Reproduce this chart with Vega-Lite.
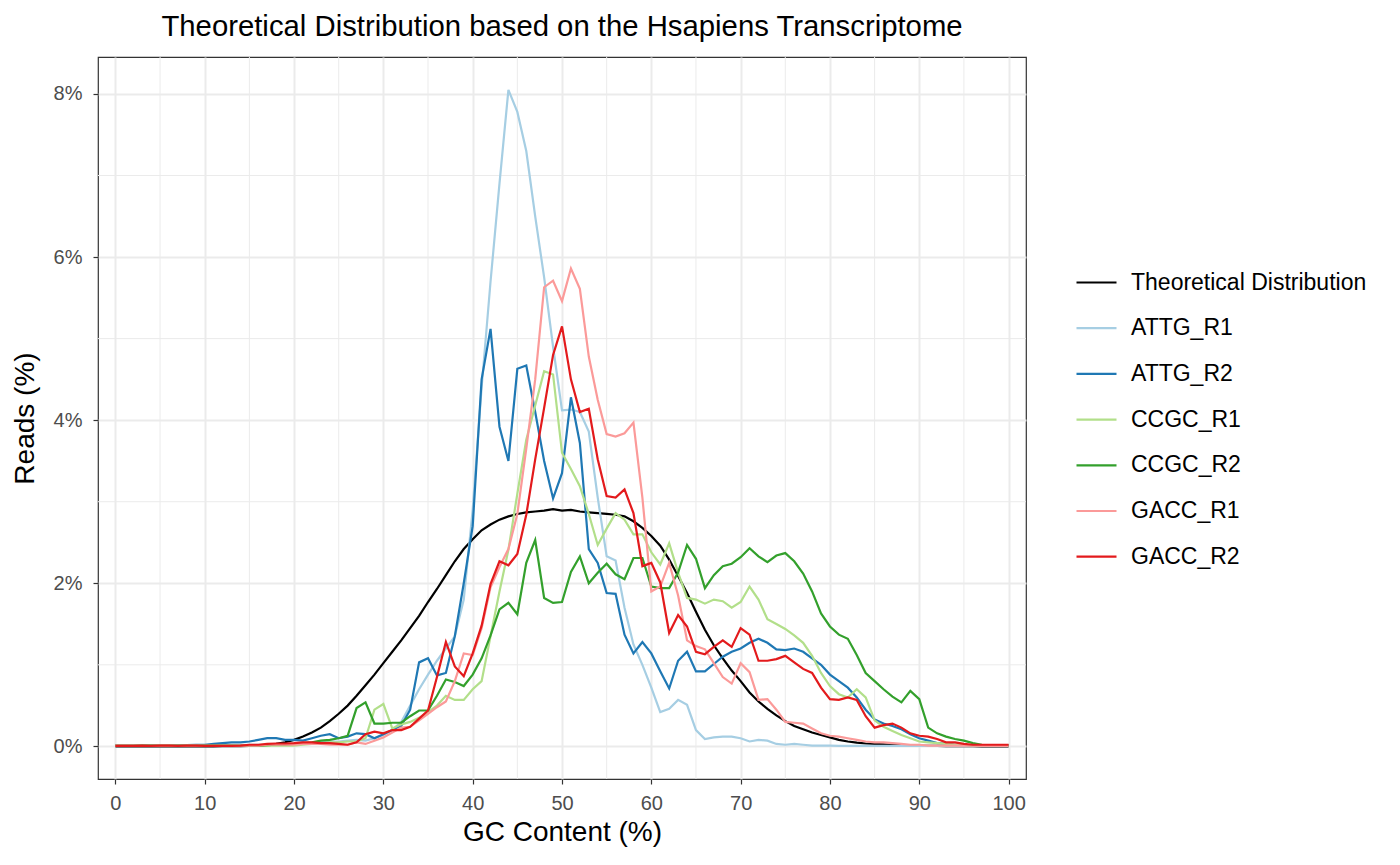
{
  "$schema": "https://vega.github.io/schema/vega-lite/v6.json",
  "width": 928,
  "height": 722,
  "autosize": {"type": "none"},
  "padding": {"left": 98, "top": 57, "right": 374, "bottom": 86},
  "background": "white",
  "title": {"text": "Theoretical Distribution based on the Hsapiens Transcriptome", "font": "Liberation Sans", "fontSize": 29.3, "fontWeight": "normal", "color": "#000000", "anchor": "middle", "baseline": "bottom", "offset": 18, "dy": 33},
  "config": {
    "view": {"stroke": "#333333", "strokeWidth": 1.2},
    "axis": {"domain": false, "gridColor": "#ebebeb", "gridWidth": 2, "tickColor": "#333333", "tickWidth": 1.2, "tickSize": 5, "labelColor": "#4d4d4d", "labelFont": "Liberation Sans", "labelFontSize": 20, "titleFont": "Liberation Sans", "titleFontSize": 28, "titleFontWeight": "normal", "titleColor": "#000000"}
  },
  "layer": [
    {
      "data": {"values": [{"gc": 5}, {"gc": 15}, {"gc": 25}, {"gc": 35}, {"gc": 45}, {"gc": 55}, {"gc": 65}, {"gc": 75}, {"gc": 85}, {"gc": 95}]},
      "mark": {"type": "rule", "color": "#ebebeb", "strokeWidth": 1},
      "encoding": {"x": {"field": "gc", "type": "quantitative", "scale": {"domain": [-1.95, 101.95], "nice": false, "zero": false},
              "axis": {"values": [0, 10, 20, 30, 40, 50, 60, 70, 80, 90, 100], "title": "GC Content (%)", "labelPadding": 9, "titlePadding": 5}}}
    },
    {
      "data": {"values": [{"pct": 1}, {"pct": 3}, {"pct": 5}, {"pct": 7}]},
      "mark": {"type": "rule", "color": "#ebebeb", "strokeWidth": 1},
      "encoding": {"y": {"field": "pct", "type": "quantitative", "scale": {"domain": [-0.4, 8.453], "nice": false, "zero": false},
              "axis": {"values": [0, 2, 4, 6, 8], "labelExpr": "datum.value + '%'", "title": "Reads (%)", "labelPadding": 11, "titlePadding": 14}}}
    },
    {
      "data": {"values": [
{"gc":0,"Theoretical Distribution":0,"ATTG_R1":0.01,"ATTG_R2":0.01,"CCGC_R1":0.01,"CCGC_R2":0.01,"GACC_R1":0.01,"GACC_R2":0.005},
{"gc":1,"Theoretical Distribution":0,"ATTG_R1":0.01,"ATTG_R2":0.01,"CCGC_R1":0.01,"CCGC_R2":0.01,"GACC_R1":0.01,"GACC_R2":0.005},
{"gc":2,"Theoretical Distribution":0,"ATTG_R1":0.01,"ATTG_R2":0.01,"CCGC_R1":0.01,"CCGC_R2":0.01,"GACC_R1":0.01,"GACC_R2":0.005},
{"gc":3,"Theoretical Distribution":0,"ATTG_R1":0.01,"ATTG_R2":0.01,"CCGC_R1":0.01,"CCGC_R2":0.01,"GACC_R1":0.005,"GACC_R2":0.01},
{"gc":4,"Theoretical Distribution":0,"ATTG_R1":0.01,"ATTG_R2":0.01,"CCGC_R1":0.01,"CCGC_R2":0.01,"GACC_R1":0.005,"GACC_R2":0.005},
{"gc":5,"Theoretical Distribution":0,"ATTG_R1":0.01,"ATTG_R2":0.01,"CCGC_R1":0.01,"CCGC_R2":0.01,"GACC_R1":0.01,"GACC_R2":0.01},
{"gc":6,"Theoretical Distribution":0,"ATTG_R1":0.01,"ATTG_R2":0.01,"CCGC_R1":0.01,"CCGC_R2":0.01,"GACC_R1":0.01,"GACC_R2":0.01},
{"gc":7,"Theoretical Distribution":0,"ATTG_R1":0.01,"ATTG_R2":0.01,"CCGC_R1":0.01,"CCGC_R2":0.01,"GACC_R1":0.005,"GACC_R2":0.005},
{"gc":8,"Theoretical Distribution":0,"ATTG_R1":0.01,"ATTG_R2":0.015,"CCGC_R1":0.01,"CCGC_R2":0.01,"GACC_R1":0.01,"GACC_R2":0.01},
{"gc":9,"Theoretical Distribution":0,"ATTG_R1":0.01,"ATTG_R2":0.02,"CCGC_R1":0.01,"CCGC_R2":0.01,"GACC_R1":0.01,"GACC_R2":0.01},
{"gc":10,"Theoretical Distribution":0.001,"ATTG_R1":0.01,"ATTG_R2":0.02,"CCGC_R1":0.01,"CCGC_R2":0.01,"GACC_R1":0.005,"GACC_R2":0.005},
{"gc":11,"Theoretical Distribution":0.001,"ATTG_R1":0.01,"ATTG_R2":0.03,"CCGC_R1":0.01,"CCGC_R2":0.01,"GACC_R1":0.005,"GACC_R2":0.005},
{"gc":12,"Theoretical Distribution":0.002,"ATTG_R1":0.01,"ATTG_R2":0.04,"CCGC_R1":0.01,"CCGC_R2":0.01,"GACC_R1":0.005,"GACC_R2":0.005},
{"gc":13,"Theoretical Distribution":0.002,"ATTG_R1":0.01,"ATTG_R2":0.05,"CCGC_R1":0.01,"CCGC_R2":0.01,"GACC_R1":0.005,"GACC_R2":0.005},
{"gc":14,"Theoretical Distribution":0.003,"ATTG_R1":0.015,"ATTG_R2":0.05,"CCGC_R1":0.01,"CCGC_R2":0.01,"GACC_R1":0.01,"GACC_R2":0.01},
{"gc":15,"Theoretical Distribution":0.005,"ATTG_R1":0.02,"ATTG_R2":0.06,"CCGC_R1":0.01,"CCGC_R2":0.01,"GACC_R1":0.01,"GACC_R2":0.02},
{"gc":16,"Theoretical Distribution":0.01,"ATTG_R1":0.02,"ATTG_R2":0.08,"CCGC_R1":0.01,"CCGC_R2":0.01,"GACC_R1":0.01,"GACC_R2":0.02},
{"gc":17,"Theoretical Distribution":0.02,"ATTG_R1":0.02,"ATTG_R2":0.1,"CCGC_R1":0.01,"CCGC_R2":0.015,"GACC_R1":0.02,"GACC_R2":0.03},
{"gc":18,"Theoretical Distribution":0.03,"ATTG_R1":0.02,"ATTG_R2":0.1,"CCGC_R1":0.01,"CCGC_R2":0.02,"GACC_R1":0.02,"GACC_R2":0.035},
{"gc":19,"Theoretical Distribution":0.05,"ATTG_R1":0.02,"ATTG_R2":0.08,"CCGC_R1":0.01,"CCGC_R2":0.02,"GACC_R1":0.02,"GACC_R2":0.035},
{"gc":20,"Theoretical Distribution":0.08,"ATTG_R1":0.03,"ATTG_R2":0.08,"CCGC_R1":0.01,"CCGC_R2":0.03,"GACC_R1":0.02,"GACC_R2":0.04},
{"gc":21,"Theoretical Distribution":0.12,"ATTG_R1":0.03,"ATTG_R2":0.07,"CCGC_R1":0.02,"CCGC_R2":0.04,"GACC_R1":0.03,"GACC_R2":0.05},
{"gc":22,"Theoretical Distribution":0.17,"ATTG_R1":0.04,"ATTG_R2":0.1,"CCGC_R1":0.03,"CCGC_R2":0.05,"GACC_R1":0.03,"GACC_R2":0.05},
{"gc":23,"Theoretical Distribution":0.23,"ATTG_R1":0.05,"ATTG_R2":0.13,"CCGC_R1":0.04,"CCGC_R2":0.07,"GACC_R1":0.03,"GACC_R2":0.04},
{"gc":24,"Theoretical Distribution":0.31,"ATTG_R1":0.06,"ATTG_R2":0.15,"CCGC_R1":0.05,"CCGC_R2":0.08,"GACC_R1":0.02,"GACC_R2":0.04},
{"gc":25,"Theoretical Distribution":0.4,"ATTG_R1":0.06,"ATTG_R2":0.1,"CCGC_R1":0.05,"CCGC_R2":0.1,"GACC_R1":0.02,"GACC_R2":0.03},
{"gc":26,"Theoretical Distribution":0.5,"ATTG_R1":0.07,"ATTG_R2":0.12,"CCGC_R1":0.06,"CCGC_R2":0.13,"GACC_R1":0.02,"GACC_R2":0.02},
{"gc":27,"Theoretical Distribution":0.62,"ATTG_R1":0.08,"ATTG_R2":0.16,"CCGC_R1":0.06,"CCGC_R2":0.47,"GACC_R1":0.05,"GACC_R2":0.05},
{"gc":28,"Theoretical Distribution":0.75,"ATTG_R1":0.07,"ATTG_R2":0.15,"CCGC_R1":0.1,"CCGC_R2":0.54,"GACC_R1":0.03,"GACC_R2":0.15},
{"gc":29,"Theoretical Distribution":0.88,"ATTG_R1":0.1,"ATTG_R2":0.1,"CCGC_R1":0.45,"CCGC_R2":0.28,"GACC_R1":0.07,"GACC_R2":0.18},
{"gc":30,"Theoretical Distribution":1.02,"ATTG_R1":0.14,"ATTG_R2":0.15,"CCGC_R1":0.52,"CCGC_R2":0.28,"GACC_R1":0.11,"GACC_R2":0.16},
{"gc":31,"Theoretical Distribution":1.16,"ATTG_R1":0.2,"ATTG_R2":0.2,"CCGC_R1":0.22,"CCGC_R2":0.29,"GACC_R1":0.17,"GACC_R2":0.2},
{"gc":32,"Theoretical Distribution":1.3,"ATTG_R1":0.3,"ATTG_R2":0.25,"CCGC_R1":0.27,"CCGC_R2":0.29,"GACC_R1":0.23,"GACC_R2":0.2},
{"gc":33,"Theoretical Distribution":1.45,"ATTG_R1":0.5,"ATTG_R2":0.45,"CCGC_R1":0.3,"CCGC_R2":0.37,"GACC_R1":0.24,"GACC_R2":0.24},
{"gc":34,"Theoretical Distribution":1.6,"ATTG_R1":0.7,"ATTG_R2":1.03,"CCGC_R1":0.35,"CCGC_R2":0.44,"GACC_R1":0.32,"GACC_R2":0.34},
{"gc":35,"Theoretical Distribution":1.77,"ATTG_R1":0.88,"ATTG_R2":1.08,"CCGC_R1":0.42,"CCGC_R2":0.44,"GACC_R1":0.4,"GACC_R2":0.44},
{"gc":36,"Theoretical Distribution":1.93,"ATTG_R1":1.05,"ATTG_R2":0.87,"CCGC_R1":0.5,"CCGC_R2":0.62,"GACC_R1":0.48,"GACC_R2":0.85},
{"gc":37,"Theoretical Distribution":2.1,"ATTG_R1":1.2,"ATTG_R2":0.9,"CCGC_R1":0.62,"CCGC_R2":0.82,"GACC_R1":0.55,"GACC_R2":1.28},
{"gc":38,"Theoretical Distribution":2.27,"ATTG_R1":1.35,"ATTG_R2":1.35,"CCGC_R1":0.57,"CCGC_R2":0.79,"GACC_R1":0.8,"GACC_R2":0.98},
{"gc":39,"Theoretical Distribution":2.42,"ATTG_R1":1.8,"ATTG_R2":2.0,"CCGC_R1":0.57,"CCGC_R2":0.74,"GACC_R1":1.14,"GACC_R2":0.86},
{"gc":40,"Theoretical Distribution":2.54,"ATTG_R1":2.9,"ATTG_R2":2.7,"CCGC_R1":0.7,"CCGC_R2":0.88,"GACC_R1":1.12,"GACC_R2":1.14},
{"gc":41,"Theoretical Distribution":2.65,"ATTG_R1":4.4,"ATTG_R2":4.5,"CCGC_R1":0.8,"CCGC_R2":1.08,"GACC_R1":1.45,"GACC_R2":1.48},
{"gc":42,"Theoretical Distribution":2.72,"ATTG_R1":5.7,"ATTG_R2":5.12,"CCGC_R1":1.35,"CCGC_R2":1.36,"GACC_R1":1.95,"GACC_R2":1.99},
{"gc":43,"Theoretical Distribution":2.78,"ATTG_R1":6.9,"ATTG_R2":3.92,"CCGC_R1":1.9,"CCGC_R2":1.68,"GACC_R1":2.2,"GACC_R2":2.27},
{"gc":44,"Theoretical Distribution":2.82,"ATTG_R1":8.05,"ATTG_R2":3.5,"CCGC_R1":2.41,"CCGC_R2":1.76,"GACC_R1":2.42,"GACC_R2":2.22},
{"gc":45,"Theoretical Distribution":2.85,"ATTG_R1":7.78,"ATTG_R2":4.63,"CCGC_R1":3.1,"CCGC_R2":1.62,"GACC_R1":2.85,"GACC_R2":2.36},
{"gc":46,"Theoretical Distribution":2.87,"ATTG_R1":7.3,"ATTG_R2":4.67,"CCGC_R1":3.76,"CCGC_R2":2.25,"GACC_R1":3.65,"GACC_R2":2.84},
{"gc":47,"Theoretical Distribution":2.88,"ATTG_R1":6.5,"ATTG_R2":4.1,"CCGC_R1":4.18,"CCGC_R2":2.53,"GACC_R1":4.5,"GACC_R2":3.52},
{"gc":48,"Theoretical Distribution":2.89,"ATTG_R1":5.75,"ATTG_R2":3.5,"CCGC_R1":4.6,"CCGC_R2":1.82,"GACC_R1":5.63,"GACC_R2":4.15},
{"gc":49,"Theoretical Distribution":2.91,"ATTG_R1":4.9,"ATTG_R2":3.04,"CCGC_R1":4.56,"CCGC_R2":1.76,"GACC_R1":5.71,"GACC_R2":4.8},
{"gc":50,"Theoretical Distribution":2.89,"ATTG_R1":4.12,"ATTG_R2":3.35,"CCGC_R1":3.6,"CCGC_R2":1.77,"GACC_R1":5.46,"GACC_R2":5.15},
{"gc":51,"Theoretical Distribution":2.9,"ATTG_R1":4.13,"ATTG_R2":4.28,"CCGC_R1":3.4,"CCGC_R2":2.14,"GACC_R1":5.86,"GACC_R2":4.5},
{"gc":52,"Theoretical Distribution":2.88,"ATTG_R1":4.1,"ATTG_R2":3.72,"CCGC_R1":3.19,"CCGC_R2":2.33,"GACC_R1":5.61,"GACC_R2":4.1},
{"gc":53,"Theoretical Distribution":2.87,"ATTG_R1":3.86,"ATTG_R2":2.42,"CCGC_R1":2.85,"CCGC_R2":2.0,"GACC_R1":4.78,"GACC_R2":4.14},
{"gc":54,"Theoretical Distribution":2.86,"ATTG_R1":3.05,"ATTG_R2":2.25,"CCGC_R1":2.47,"CCGC_R2":2.13,"GACC_R1":4.25,"GACC_R2":3.52},
{"gc":55,"Theoretical Distribution":2.85,"ATTG_R1":2.33,"ATTG_R2":1.88,"CCGC_R1":2.67,"CCGC_R2":2.24,"GACC_R1":3.83,"GACC_R2":3.07},
{"gc":56,"Theoretical Distribution":2.84,"ATTG_R1":2.28,"ATTG_R2":1.87,"CCGC_R1":2.86,"CCGC_R2":2.11,"GACC_R1":3.8,"GACC_R2":3.05},
{"gc":57,"Theoretical Distribution":2.82,"ATTG_R1":1.7,"ATTG_R2":1.37,"CCGC_R1":2.78,"CCGC_R2":2.05,"GACC_R1":3.84,"GACC_R2":3.15},
{"gc":58,"Theoretical Distribution":2.76,"ATTG_R1":1.25,"ATTG_R2":1.14,"CCGC_R1":2.6,"CCGC_R2":2.31,"GACC_R1":3.97,"GACC_R2":2.86},
{"gc":59,"Theoretical Distribution":2.68,"ATTG_R1":1.0,"ATTG_R2":1.28,"CCGC_R1":2.6,"CCGC_R2":2.31,"GACC_R1":3.05,"GACC_R2":2.21},
{"gc":60,"Theoretical Distribution":2.58,"ATTG_R1":0.72,"ATTG_R2":1.14,"CCGC_R1":2.38,"CCGC_R2":1.96,"GACC_R1":1.9,"GACC_R2":2.25},
{"gc":61,"Theoretical Distribution":2.46,"ATTG_R1":0.42,"ATTG_R2":0.92,"CCGC_R1":2.23,"CCGC_R2":1.94,"GACC_R1":1.96,"GACC_R2":2.01},
{"gc":62,"Theoretical Distribution":2.29,"ATTG_R1":0.46,"ATTG_R2":0.71,"CCGC_R1":2.49,"CCGC_R2":1.94,"GACC_R1":2.25,"GACC_R2":1.39},
{"gc":63,"Theoretical Distribution":2.09,"ATTG_R1":0.57,"ATTG_R2":1.05,"CCGC_R1":2.13,"CCGC_R2":2.13,"GACC_R1":1.85,"GACC_R2":1.61},
{"gc":64,"Theoretical Distribution":1.88,"ATTG_R1":0.51,"ATTG_R2":1.16,"CCGC_R1":1.82,"CCGC_R2":2.47,"GACC_R1":1.3,"GACC_R2":1.47},
{"gc":65,"Theoretical Distribution":1.65,"ATTG_R1":0.2,"ATTG_R2":0.92,"CCGC_R1":1.8,"CCGC_R2":2.3,"GACC_R1":1.23,"GACC_R2":1.16},
{"gc":66,"Theoretical Distribution":1.43,"ATTG_R1":0.09,"ATTG_R2":0.92,"CCGC_R1":1.75,"CCGC_R2":1.94,"GACC_R1":1.19,"GACC_R2":1.13},
{"gc":67,"Theoretical Distribution":1.24,"ATTG_R1":0.11,"ATTG_R2":1.01,"CCGC_R1":1.8,"CCGC_R2":2.1,"GACC_R1":1.02,"GACC_R2":1.22},
{"gc":68,"Theoretical Distribution":1.08,"ATTG_R1":0.12,"ATTG_R2":1.1,"CCGC_R1":1.78,"CCGC_R2":2.21,"GACC_R1":0.85,"GACC_R2":1.3},
{"gc":69,"Theoretical Distribution":0.93,"ATTG_R1":0.12,"ATTG_R2":1.16,"CCGC_R1":1.7,"CCGC_R2":2.24,"GACC_R1":0.77,"GACC_R2":1.22},
{"gc":70,"Theoretical Distribution":0.8,"ATTG_R1":0.1,"ATTG_R2":1.2,"CCGC_R1":1.77,"CCGC_R2":2.32,"GACC_R1":1.02,"GACC_R2":1.45},
{"gc":71,"Theoretical Distribution":0.66,"ATTG_R1":0.06,"ATTG_R2":1.27,"CCGC_R1":1.96,"CCGC_R2":2.43,"GACC_R1":0.91,"GACC_R2":1.37},
{"gc":72,"Theoretical Distribution":0.55,"ATTG_R1":0.08,"ATTG_R2":1.32,"CCGC_R1":1.8,"CCGC_R2":2.33,"GACC_R1":0.57,"GACC_R2":1.05},
{"gc":73,"Theoretical Distribution":0.46,"ATTG_R1":0.07,"ATTG_R2":1.27,"CCGC_R1":1.56,"CCGC_R2":2.26,"GACC_R1":0.58,"GACC_R2":1.05},
{"gc":74,"Theoretical Distribution":0.38,"ATTG_R1":0.03,"ATTG_R2":1.19,"CCGC_R1":1.5,"CCGC_R2":2.34,"GACC_R1":0.45,"GACC_R2":1.07},
{"gc":75,"Theoretical Distribution":0.31,"ATTG_R1":0.02,"ATTG_R2":1.18,"CCGC_R1":1.44,"CCGC_R2":2.37,"GACC_R1":0.3,"GACC_R2":1.11},
{"gc":76,"Theoretical Distribution":0.25,"ATTG_R1":0.03,"ATTG_R2":1.2,"CCGC_R1":1.36,"CCGC_R2":2.27,"GACC_R1":0.29,"GACC_R2":1.03},
{"gc":77,"Theoretical Distribution":0.21,"ATTG_R1":0.02,"ATTG_R2":1.16,"CCGC_R1":1.27,"CCGC_R2":2.12,"GACC_R1":0.28,"GACC_R2":0.95},
{"gc":78,"Theoretical Distribution":0.17,"ATTG_R1":0.01,"ATTG_R2":1.08,"CCGC_R1":1.11,"CCGC_R2":1.9,"GACC_R1":0.22,"GACC_R2":0.9},
{"gc":79,"Theoretical Distribution":0.14,"ATTG_R1":0.01,"ATTG_R2":1.0,"CCGC_R1":0.9,"CCGC_R2":1.63,"GACC_R1":0.16,"GACC_R2":0.72},
{"gc":80,"Theoretical Distribution":0.11,"ATTG_R1":0.01,"ATTG_R2":0.88,"CCGC_R1":0.74,"CCGC_R2":1.47,"GACC_R1":0.13,"GACC_R2":0.58},
{"gc":81,"Theoretical Distribution":0.08,"ATTG_R1":0.005,"ATTG_R2":0.8,"CCGC_R1":0.64,"CCGC_R2":1.37,"GACC_R1":0.12,"GACC_R2":0.57},
{"gc":82,"Theoretical Distribution":0.06,"ATTG_R1":0.005,"ATTG_R2":0.72,"CCGC_R1":0.6,"CCGC_R2":1.32,"GACC_R1":0.1,"GACC_R2":0.6},
{"gc":83,"Theoretical Distribution":0.045,"ATTG_R1":0.005,"ATTG_R2":0.6,"CCGC_R1":0.7,"CCGC_R2":1.12,"GACC_R1":0.08,"GACC_R2":0.57},
{"gc":84,"Theoretical Distribution":0.035,"ATTG_R1":0.005,"ATTG_R2":0.45,"CCGC_R1":0.6,"CCGC_R2":0.9,"GACC_R1":0.06,"GACC_R2":0.37},
{"gc":85,"Theoretical Distribution":0.03,"ATTG_R1":0.005,"ATTG_R2":0.33,"CCGC_R1":0.32,"CCGC_R2":0.8,"GACC_R1":0.05,"GACC_R2":0.23},
{"gc":86,"Theoretical Distribution":0.025,"ATTG_R1":0.005,"ATTG_R2":0.28,"CCGC_R1":0.24,"CCGC_R2":0.7,"GACC_R1":0.05,"GACC_R2":0.26},
{"gc":87,"Theoretical Distribution":0.02,"ATTG_R1":0.005,"ATTG_R2":0.25,"CCGC_R1":0.19,"CCGC_R2":0.61,"GACC_R1":0.04,"GACC_R2":0.28},
{"gc":88,"Theoretical Distribution":0.015,"ATTG_R1":0.005,"ATTG_R2":0.21,"CCGC_R1":0.14,"CCGC_R2":0.54,"GACC_R1":0.03,"GACC_R2":0.23},
{"gc":89,"Theoretical Distribution":0.01,"ATTG_R1":0.005,"ATTG_R2":0.15,"CCGC_R1":0.1,"CCGC_R2":0.68,"GACC_R1":0.02,"GACC_R2":0.16},
{"gc":90,"Theoretical Distribution":0.008,"ATTG_R1":0.005,"ATTG_R2":0.1,"CCGC_R1":0.06,"CCGC_R2":0.58,"GACC_R1":0.02,"GACC_R2":0.13},
{"gc":91,"Theoretical Distribution":0.006,"ATTG_R1":0.005,"ATTG_R2":0.07,"CCGC_R1":0.05,"CCGC_R2":0.23,"GACC_R1":0.01,"GACC_R2":0.12},
{"gc":92,"Theoretical Distribution":0.005,"ATTG_R1":0.005,"ATTG_R2":0.04,"CCGC_R1":0.04,"CCGC_R2":0.16,"GACC_R1":0.01,"GACC_R2":0.09},
{"gc":93,"Theoretical Distribution":0.004,"ATTG_R1":0.005,"ATTG_R2":0.03,"CCGC_R1":0.03,"CCGC_R2":0.12,"GACC_R1":0.01,"GACC_R2":0.05},
{"gc":94,"Theoretical Distribution":0.003,"ATTG_R1":0.005,"ATTG_R2":0.02,"CCGC_R1":0.02,"CCGC_R2":0.09,"GACC_R1":0.01,"GACC_R2":0.05},
{"gc":95,"Theoretical Distribution":0.002,"ATTG_R1":0.005,"ATTG_R2":0.02,"CCGC_R1":0.02,"CCGC_R2":0.07,"GACC_R1":0.01,"GACC_R2":0.03},
{"gc":96,"Theoretical Distribution":0.002,"ATTG_R1":0.005,"ATTG_R2":0.01,"CCGC_R1":0.01,"CCGC_R2":0.04,"GACC_R1":0.01,"GACC_R2":0.02},
{"gc":97,"Theoretical Distribution":0.001,"ATTG_R1":0.005,"ATTG_R2":0.01,"CCGC_R1":0.01,"CCGC_R2":0.02,"GACC_R1":0.005,"GACC_R2":0.02},
{"gc":98,"Theoretical Distribution":0.001,"ATTG_R1":0.005,"ATTG_R2":0.01,"CCGC_R1":0.01,"CCGC_R2":0.015,"GACC_R1":0.005,"GACC_R2":0.02},
{"gc":99,"Theoretical Distribution":0,"ATTG_R1":0.005,"ATTG_R2":0.01,"CCGC_R1":0.01,"CCGC_R2":0.01,"GACC_R1":0.005,"GACC_R2":0.02},
{"gc":100,"Theoretical Distribution":0,"ATTG_R1":0.005,"ATTG_R2":0.01,"CCGC_R1":0.01,"CCGC_R2":0.01,"GACC_R1":0.005,"GACC_R2":0.02}
      ]},
      "transform": [{"fold": ["Theoretical Distribution", "ATTG_R1", "ATTG_R2", "CCGC_R1", "CCGC_R2", "GACC_R1", "GACC_R2"], "as": ["series", "pct"]}],
      "mark": {"type": "line", "strokeWidth": 2.2, "interpolate": "linear"},
      "encoding": {
        "x": {"field": "gc", "type": "quantitative", "scale": {"domain": [-1.95, 101.95], "nice": false, "zero": false},
              "axis": {"values": [0, 10, 20, 30, 40, 50, 60, 70, 80, 90, 100], "title": "GC Content (%)", "labelPadding": 9, "titlePadding": 5}},
        "y": {"field": "pct", "type": "quantitative", "scale": {"domain": [-0.4, 8.453], "nice": false, "zero": false},
              "axis": {"values": [0, 2, 4, 6, 8], "labelExpr": "datum.value + '%'", "title": "Reads (%)", "labelPadding": 11, "titlePadding": 14}},
        "color": {"field": "series", "type": "nominal",
                  "scale": {"domain": ["Theoretical Distribution", "ATTG_R1", "ATTG_R2", "CCGC_R1", "CCGC_R2", "GACC_R1", "GACC_R2"],
                            "range": ["#000000", "#A6CEE3", "#1F78B4", "#B2DF8A", "#33A02C", "#FB9A99", "#E31A1C"]},
                  "legend": {"orient": "none", "legendX": 977, "legendY": 204, "title": null, "symbolType": "stroke", "symbolSize": 1600, "symbolStrokeWidth": 2.2, "labelFont": "Liberation Sans", "labelFontSize": 23, "labelColor": "#000000", "labelOffset": 13, "rowPadding": 11.7, "padding": 0, "labelLimit": 400}}
      }
    }
  ]
}
